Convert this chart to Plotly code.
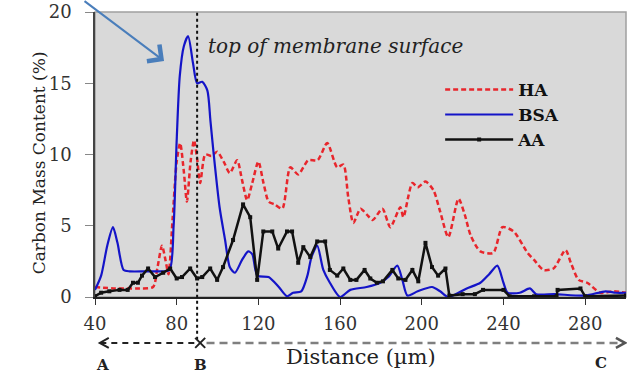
import plotly.graph_objects as go

# Carbon mass content profiles across the membrane cross-section
ha_x = [40, 50, 60, 68.4, 70.5, 72.8, 74.5, 76, 78, 80, 81.7, 83.5, 85, 86.8, 88.5, 90, 91.5, 94, 97,
        99.8, 103, 106, 109.6, 112, 114.5, 117, 120, 122.5, 125, 128, 131.7, 135.6, 139.5, 144.4, 149,
        153.7, 158.6, 161.6, 164, 166.5, 170, 173, 176, 180.7, 184.6, 189.5, 191, 195.4, 198, 201.8,
        205.7, 209, 213, 218, 221, 224, 228.7, 235, 239.5, 245, 251.8, 255, 259.6, 264.5, 270.4, 273,
        276.8, 281, 287.5, 294, 300]
ha_y = [0.7, 0.6, 0.6, 0.7, 2.0, 3.6, 2.6, 1.6, 5.5, 9.5, 10.8, 8.8, 6.7, 9.5, 11.0, 9.7, 8.0, 10.0, 9.9,
        10.2, 9.5, 8.7, 9.6, 8.2, 6.8, 8.0, 9.5, 8.0, 6.7, 6.5, 6.2, 9.1, 8.6, 9.6, 9.6,
        10.8, 9.1, 9.3, 7.0, 5.2, 6.2, 5.8, 5.4, 6.2, 4.9, 6.3, 5.6, 8.0, 7.7, 8.1,
        7.5, 6.0, 4.2, 6.9, 5.8, 4.3, 3.2, 3.1, 4.9, 4.6, 3.1, 2.6, 1.9, 2.0, 3.3, 2.4,
        1.2, 1.0, 0.3, 0.4, 0.3]

bsa_x = [40, 43, 46, 48.8, 51, 54, 57, 65, 72, 76.5, 78.5, 80, 81.5, 83.5, 85.6, 88, 90, 92.5, 95, 96.5,
         98, 101, 103.7, 106, 108.5, 112, 115, 117, 119.5, 125, 130, 134, 137, 141, 144, 146, 148.8,
         151.8, 155, 160, 165, 173, 179.7, 183.6, 188, 190.5, 193, 198, 205, 209, 213, 222, 228.7, 233,
         237, 240, 242, 248, 253, 256, 265, 280, 290, 295, 300]
bsa_y = [0.5, 1.5, 3.6, 4.9, 3.8, 1.9, 1.8, 1.8, 1.8, 1.9, 5.0, 11.0, 15.5, 17.6, 18.3, 16.4, 15.0, 15.1, 14.5, 12.4,
         10.2, 6.3, 4.0, 2.1, 1.7, 2.6, 3.2, 3.0, 1.5, 1.4, 0.7, 0.05, 0.3, 0.4, 1.5, 2.8, 3.6,
         1.9, 1.0, 0.0, 0.5, 0.7, 1.0, 1.4, 2.2, 1.2, 0.1, 0.4, 0.7, 0.4, 0.0, 0.6, 1.0, 1.6,
         2.2, 1.0, 0.3, 0.3, 0.6, 0.2, 0.2, 0.1, 0.4, 0.3, 0.3]

aa_x = [40, 43, 47, 52, 56, 58.6, 61, 63, 66, 69.4, 73.4, 76.8, 80, 82.6, 86.6, 90, 92.5, 96.4, 99.8,
        102.7, 107.6, 112.5, 116, 119.4, 122.4, 126.8, 129.7, 134, 136.5, 139.5, 142, 145.4, 148.8,
        152.7, 155, 158.6, 161.6, 165, 168, 172, 174.8, 178, 181, 185.6, 188.5, 192, 195.4, 198.3,
        201.8, 205, 208, 211.6, 213.5, 220, 226, 230, 240, 243, 255, 266, 266.5, 277.7, 280, 300]
aa_y = [0.05, 0.3, 0.4, 0.5, 0.5, 1.0, 1.0, 1.5, 2.0, 1.4, 1.7, 2.0, 1.3, 1.4, 2.0, 1.3, 1.4, 2.0, 1.2,
        2.1, 4.0, 6.5, 5.6, 1.2, 4.6, 4.6, 3.4, 4.6, 4.6, 2.4, 3.5, 2.8, 3.9,
        3.9, 1.9, 1.5, 2.0, 1.2, 1.2, 1.9, 1.3, 1.0, 1.1, 1.9, 1.3, 1.2, 1.9, 1.1,
        3.8, 2.1, 1.5, 2.0, 0.1, 0.2, 0.2, 0.5, 0.5, 0.05, 0.05, 0.05, 0.5, 0.6, 0.05, 0.1]

x_ticks = [40, 80, 120, 160, 200, 240, 280]
y_ticks = [0, 5, 10, 15, 20]
surface_x = 90  # top of membrane surface (point B)

SERIF = "DejaVu Serif"

fig = go.Figure()
fig.add_trace(go.Scatter(x=ha_x, y=ha_y, name="HA", mode="lines",
                         line=dict(color="#e8262c", width=2.5, dash="5px,3px", shape="spline", smoothing=0.7)))
fig.add_trace(go.Scatter(x=bsa_x, y=bsa_y, name="BSA", mode="lines",
                         line=dict(color="#1414c8", width=2.2, shape="spline", smoothing=0.7)))
fig.add_trace(go.Scatter(x=aa_x, y=aa_y, name="AA", mode="lines+markers",
                         line=dict(color="#111111", width=2.5),
                         marker=dict(symbol="square", size=4, color="#111111")))

# plot frame (top / right edges)
fig.add_shape(type="rect", xref="paper", yref="paper", x0=0, x1=1, y0=0, y1=1,
              line=dict(color="#a0a0a0", width=1.5), layer="below")

# vertical dotted marker at the membrane surface, down to the distance arrow
fig.add_shape(type="line", xref="x", yref="paper", x0=surface_x, x1=surface_x, y0=-0.15, y1=1,
              line=dict(color="#111111", width=2, dash="dot"))

arrow_y = -0.161
# B -> A (black dashed)
fig.add_shape(type="line", xref="paper", yref="paper", x0=0.01, x1=0.192, y0=arrow_y, y1=arrow_y,
              line=dict(color="#222222", width=2, dash="6px,5px"))
# B -> C (grey dashed)
fig.add_shape(type="line", xref="paper", yref="paper", x0=0.21, x1=0.995, y0=arrow_y, y1=arrow_y,
              line=dict(color="#7f7f7f", width=2.5, dash="8px,5px"))
# arrow heads and cross at B
fig.add_shape(type="path", xref="paper", yref="paper", xsizemode="pixel", ysizemode="pixel",
              xanchor=0.009, yanchor=arrow_y, path="M 9,5 L 0,0 L 9,-5",
              line=dict(color="#222222", width=2))
fig.add_shape(type="path", xref="paper", yref="paper", xsizemode="pixel", ysizemode="pixel",
              xanchor=0.998, yanchor=arrow_y, path="M -9,5 L 0,0 L -9,-5",
              line=dict(color="#555555", width=2.5))
fig.add_shape(type="path", xref="x", yref="paper", xsizemode="pixel", ysizemode="pixel",
              xanchor=surface_x + 1.5, yanchor=arrow_y, path="M -5,-5 L 5,5 M -5,5 L 5,-5",
              line=dict(color="#222222", width=2))

ann = [
    dict(text="top of membrane surface", x=surface_x + 4.5, y=17.6, xref="x", yref="y",
         xanchor="left", yanchor="middle", showarrow=False,
         font=dict(family=SERIF, size=20, style="italic", color="#222222")),
    dict(text="Carbon Mass Content (%)", x=-0.105, y=0.47, xref="paper", yref="paper",
         textangle=-90, showarrow=False, xanchor="center", yanchor="middle",
         font=dict(family=SERIF, size=17, color="#222222")),
    dict(text="Distance (µm)", x=0.5, y=-0.211, xref="paper", yref="paper", showarrow=False,
         xanchor="center", yanchor="middle", font=dict(family=SERIF, size=21, color="#222222")),
    dict(text="<b>A</b>", x=0.015, y=-0.239, xref="paper", yref="paper", showarrow=False,
         xanchor="center", yanchor="middle", font=dict(family=SERIF, size=15, color="#222222")),
    dict(text="<b>B</b>", x=0.198, y=-0.239, xref="paper", yref="paper", showarrow=False,
         xanchor="center", yanchor="middle", font=dict(family=SERIF, size=15, color="#222222")),
    dict(text="<b>C</b>", x=0.952, y=-0.232, xref="paper", yref="paper", showarrow=False,
         xanchor="center", yanchor="middle", font=dict(family=SERIF, size=15, color="#222222")),
    # pointer to the BSA peak
    dict(text="", x=73.8, y=16.56, xref="x", yref="y", showarrow=True, ax=-81, ay=-63,
         arrowhead=4, arrowsize=2.0, arrowwidth=2, arrowcolor="#4a7ebb"),
]

fig.update_layout(
    width=627, height=375,
    margin=dict(l=95, r=1, t=12, b=78),
    paper_bgcolor="white", plot_bgcolor="#d9d9d9",
    font=dict(family=SERIF, color="#222222"),
    annotations=ann,
    showlegend=True,
    legend=dict(x=0.65, y=0.79, xanchor="left", yanchor="top", bgcolor="rgba(0,0,0,0)",
                itemwidth=68, font=dict(family=SERIF, size=17, weight="bold", color="#111111"),
                tracegroupgap=0),
    xaxis=dict(range=[40, 300], tickvals=x_ticks, ticks="outside", ticklen=6, tickwidth=1.2,
               tickcolor="#333333", showline=True, linecolor="#222222", linewidth=1.5,
               showgrid=False, zeroline=False, ticklabelstandoff=4,
               tickfont=dict(family=SERIF, size=18, color="#333333")),
    yaxis=dict(range=[0, 20], tickvals=y_ticks, ticks="outside", ticklen=8, tickwidth=1.2,
               tickcolor="#888888", showline=True, linecolor="#444444", linewidth=1.5,
               showgrid=False, zeroline=False, ticklabelstandoff=10,
               tickfont=dict(family=SERIF, size=18, color="#333333")),
)

fig.write_html("out.html")
